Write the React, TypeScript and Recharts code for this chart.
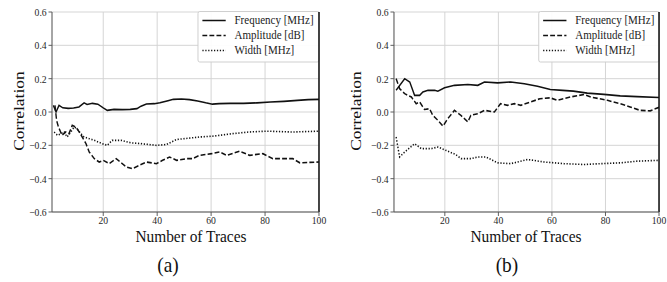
import React from 'react';
import { LineChart, Line, XAxis, YAxis, CartesianGrid, ReferenceLine, Customized } from 'recharts';

// ---------- data ----------
const xTicks = [20, 40, 60, 80, 100];
const yTicks = [-0.6, -0.4, -0.2, 0, 0.2, 0.4, 0.6];
const seriesNames = ['Frequency [MHz]', 'Amplitude [dB]', 'Width [MHz]'];
const xTitle = 'Number of Traces';
const yTitle = 'Correlation';

// (a)
const freqA_n = [1.5, 2.5, 3.6, 5, 7, 9, 11, 12.9, 14, 16, 18, 20, 21.5, 24, 27, 30, 32.5, 34, 36, 39, 41, 44, 46, 49, 52, 55, 58, 60.5, 63, 67, 72, 77, 82, 87, 92, 96, 100];
const freqA_v = [0.04, 0.0, 0.04, 0.025, 0.022, 0.024, 0.03, 0.055, 0.045, 0.052, 0.047, 0.025, 0.01, 0.016, 0.014, 0.016, 0.02, 0.035, 0.048, 0.05, 0.056, 0.068, 0.076, 0.078, 0.074, 0.066, 0.055, 0.047, 0.05, 0.052, 0.052, 0.055, 0.06, 0.064, 0.07, 0.074, 0.076];
const ampA_n = [2.1, 2.7, 3.4, 4.7, 6.1, 7.3, 8.5, 9.8, 11.1, 12.2, 13.6, 14.8, 16.7, 18.5, 20, 22.2, 24.8, 28.6, 30.8, 33.4, 36, 39.7, 42, 44.6, 47.2, 50.9, 53.1, 55.7, 60.2, 63.2, 65.8, 70.6, 74.3, 79.2, 82.9, 90.3, 92.9, 100];
const ampA_v = [0.04, -0.05, -0.09, -0.14, -0.12, -0.13, -0.08, -0.09, -0.12, -0.15, -0.19, -0.24, -0.28, -0.3, -0.29, -0.31, -0.28, -0.33, -0.34, -0.32, -0.3, -0.31, -0.29, -0.27, -0.29, -0.28, -0.28, -0.26, -0.25, -0.24, -0.26, -0.235, -0.26, -0.25, -0.28, -0.28, -0.305, -0.3];
const widA_n = [1.8, 3, 4.3, 5.5, 6.6, 8, 9.2, 10.3, 11.7, 12.9, 14.8, 16.7, 19.6, 21.5, 23.3, 26.6, 30.3, 34, 39.7, 43.4, 47.2, 55.7, 60.6, 68, 74, 80.7, 90.3, 100];
const widA_v = [-0.12, -0.14, -0.13, -0.12, -0.15, -0.12, -0.09, -0.1, -0.13, -0.15, -0.16, -0.17, -0.19, -0.2, -0.17, -0.17, -0.185, -0.19, -0.2, -0.195, -0.165, -0.15, -0.145, -0.13, -0.12, -0.115, -0.12, -0.115];

// (b)
const freqB_n = [1.8, 5, 6.9, 8.7, 10.6, 11.8, 13.7, 16.2, 17.4, 19.9, 23.6, 28.6, 32.3, 34.8, 39.7, 44.6, 49.7, 54.6, 59.4, 64, 68, 73.2, 79.4, 85.5, 91.8, 100];
const freqB_v = [0.13, 0.2, 0.18, 0.1, 0.1, 0.12, 0.13, 0.13, 0.125, 0.145, 0.16, 0.165, 0.16, 0.18, 0.175, 0.18, 0.17, 0.155, 0.135, 0.13, 0.125, 0.113, 0.106, 0.097, 0.092, 0.087];
const ampB_n = [1.8, 3.1, 5, 7.5, 9.3, 10.6, 12.4, 14.3, 15.5, 17.4, 19.3, 21.1, 23.6, 26, 28.6, 29.7, 32.3, 34.8, 38.5, 40.8, 43.4, 46, 48.4, 52, 55.5, 59.4, 62, 66.9, 72, 74.5, 80.7, 85.5, 89.2, 92.9, 96.7, 100];
const ampB_v = [0.2, 0.14, 0.11, 0.09, 0.05, 0.06, 0.015, 0.02, -0.02, -0.05, -0.085, -0.04, 0.01, -0.02, -0.06, -0.02, -0.01, 0.01, 0.0, 0.05, 0.04, 0.05, 0.04, 0.06, 0.08, 0.085, 0.07, 0.09, 0.105, 0.09, 0.07, 0.05, 0.03, 0.01, 0.007, 0.028];
const widB_n = [1.8, 3.1, 5, 8.7, 11.2, 14.9, 17.4, 21.1, 24, 26.1, 29.8, 32.3, 35.4, 39.7, 44.6, 50.9, 57.1, 64.5, 72, 78.2, 85.6, 91.8, 100];
const widB_v = [-0.15, -0.27, -0.24, -0.19, -0.22, -0.22, -0.21, -0.235, -0.255, -0.28, -0.28, -0.27, -0.27, -0.305, -0.31, -0.285, -0.3, -0.31, -0.315, -0.31, -0.305, -0.295, -0.29];

// ---------- layout ----------
const S = 0.88; // reference is horizontally squeezed
const FULL_W = 667 / S;
const PANEL_W = FULL_W / 2;
const H = 282;
const PLOT_TOP = 12;
const PLOT_BOTTOM = 212;
const YAXIS_W = 59;
const XAXIS_H = 30;
const FONT = '"Liberation Serif", "Times New Roman", serif';

const zip = (n: number[], v: number[]) => n.map((x, i) => ({ n: x, v: v[i] }));
const fmtY = (v: number) => (v < 0 ? '\u2212' + Math.abs(v).toFixed(1) : v.toFixed(1));

type PanelProps = {
  freq: { n: number; v: number }[];
  amp: { n: number; v: number }[];
  wid: { n: number; v: number }[];
  plotLeft: number;
  plotRight: number;
  yTitleX: number;
  xTitleCx: number;
  caption: string;
  captionCx: number;
  legendLeft: number;
};

const styles = [
  { dash: undefined as string | undefined },
  { dash: '5.5 2.5' },
  { dash: '1.4 1.9' },
];

function Panel(p: PanelProps) {
  const margin = {
    top: PLOT_TOP,
    right: PANEL_W - p.plotRight,
    bottom: H - PLOT_BOTTOM - XAXIS_H,
    left: p.plotLeft - YAXIS_W,
  };
  const legendW = p.plotRight - p.legendLeft;
  const rows = [20.5, 35.5, 50.5];
  const overlay = () => (
    <g fontFamily={FONT}>
      <text
        x={p.yTitleX}
        y={(PLOT_TOP + PLOT_BOTTOM) / 2 - 1}
        transform={`rotate(-90 ${p.yTitleX} ${(PLOT_TOP + PLOT_BOTTOM) / 2 - 1})`}
        textAnchor="middle"
        fontSize={17.5}
        fill="#111"
      >
        {yTitle}
      </text>
      <text x={p.xTitleCx} y={242.5} textAnchor="middle" fontSize={17.5} fill="#111">
        {xTitle}
      </text>
      <text x={p.captionCx} y={272.5} textAnchor="middle" fontSize={22} fill="#111">
        {p.caption}
      </text>
      <rect
        x={p.legendLeft}
        y={PLOT_TOP - 0.5}
        width={legendW}
        height={50.5}
        rx={2}
        fill="#fff"
        fillOpacity={0.92}
        stroke="#cccccc"
        strokeWidth={1}
      />
      {seriesNames.map((name, i) => (
        <g key={name}>
          <line
            x1={p.legendLeft + 5}
            x2={p.legendLeft + 31.5}
            y1={rows[i]}
            y2={rows[i]}
            stroke="#111"
            strokeWidth={1.5}
            strokeDasharray={styles[i].dash}
          />
          <text x={p.legendLeft + 41.5} y={rows[i]} dominantBaseline="central" fontSize={12.5} fill="#222">
            {name}
          </text>
        </g>
      ))}
    </g>
  );
  const series = [p.freq, p.amp, p.wid];
  return (
    <LineChart width={PANEL_W} height={H} margin={margin}>
      <CartesianGrid stroke="#d2d2d2" strokeWidth={1} horizontalValues={yTicks} verticalValues={xTicks} />
      <XAxis
        dataKey="n"
        type="number"
        domain={[1, 100]}
        ticks={xTicks}
        allowDataOverflow
        height={XAXIS_H}
        tickSize={4}
        tickMargin={0}
        stroke="#555"
        tick={{ fill: '#262626', fontSize: 11, fontFamily: FONT }}
        axisLine={{ stroke: '#555', strokeWidth: 1.2 }}
        tickLine={{ stroke: '#555' }}
      />
      <YAxis
        type="number"
        domain={[-0.6, 0.6]}
        ticks={yTicks}
        allowDataOverflow
        width={YAXIS_W}
        tickSize={4}
        tickMargin={2}
        tickFormatter={fmtY}
        tick={{ fill: '#262626', fontSize: 11, fontFamily: FONT }}
        axisLine={{ stroke: '#555', strokeWidth: 1.2 }}
        tickLine={{ stroke: '#555' }}
      />
      <ReferenceLine x={100} stroke="#000" strokeWidth={1.6} />
      {series.map((d, i) => (
        <Line
          key={i}
          data={d}
          dataKey="v"
          type="linear"
          stroke="#111"
          strokeWidth={1.6}
          strokeDasharray={styles[i].dash}
          dot={false}
          activeDot={false}
          isAnimationActive={false}
        />
      ))}
      <Customized component={overlay} />
    </LineChart>
  );
}

export default function App() {
  return (
    <div style={{ position: 'absolute', left: 0, top: 0, width: 667, height: H, overflow: 'hidden', background: '#fff' }}>
      <div style={{ width: FULL_W, height: H, display: 'flex', transform: `scaleX(${S})`, transformOrigin: '0 0' }}>
        <Panel
          freq={zip(freqA_n, freqA_v)}
          amp={zip(ampA_n, ampA_v)}
          wid={zip(widA_n, widA_v)}
          plotLeft={59.1}
          plotRight={362.5}
          yTitleX={27.8}
          xTitleCx={217}
          caption="(a)"
          captionCx={191}
          legendLeft={225}
        />
        <Panel
          freq={zip(freqB_n, freqB_v)}
          amp={zip(ampB_n, ampB_v)}
          wid={zip(widB_n, widB_v)}
          plotLeft={68.7}
          plotRight={369.9}
          yTitleX={31.2}
          xTitleCx={218.7}
          caption="(b)"
          captionCx={197.1}
          legendLeft={233.2}
        />
      </div>
    </div>
  );
}
